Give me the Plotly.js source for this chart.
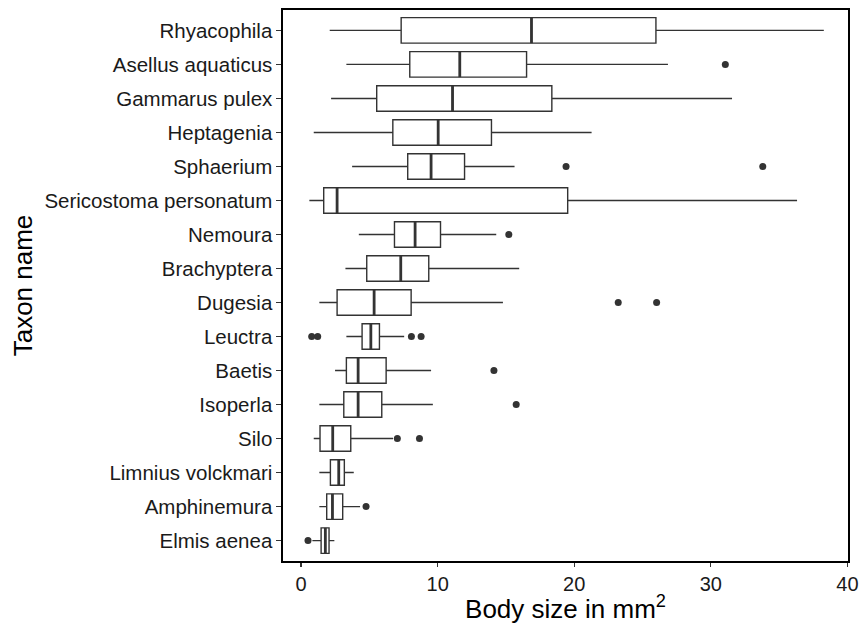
<!DOCTYPE html>
<html>
<head>
<meta charset="utf-8">
<script src="https://cdn.plot.ly/plotly-3.0.1.min.js"></script>
<style>html,body{margin:0;padding:0;background:#fff;}#chart{width:859px;height:624px;}</style>
</head>
<body>
<div id="chart"></div>
<script>
// Taxa from bottom to top
const taxa = ["Elmis aenea","Amphinemura","Limnius volckmari","Silo","Isoperla","Baetis","Leuctra","Dugesia","Brachyptera","Nemoura","Sericostoma personatum","Sphaerium","Heptagenia","Gammarus pulex","Asellus aquaticus","Rhyacophila"];
const lowerWhisker = [0.83, 1.34, 1.34, 0.93, 1.34, 2.49, 3.32, 1.34, 3.25, 4.23, 0.61, 3.74, 0.93, 2.20, 3.32, 2.10];
const q1Values     = [1.47, 1.88, 2.15, 1.39, 3.13, 3.32, 4.47, 2.64, 4.81, 6.84, 1.66, 7.81, 6.72, 5.54, 7.96, 7.33];
const medianValues = [1.78, 2.30, 2.76, 2.32, 4.18, 4.18, 5.11, 5.35, 7.30, 8.35, 2.64, 9.52, 10.04, 11.09, 11.62, 16.87];
const q3Values     = [2.05, 3.05, 3.17, 3.64, 5.91, 6.23, 5.74, 8.06, 9.35, 10.21, 19.52, 11.97, 13.94, 18.36, 16.51, 25.98];
const upperWhisker = [2.44, 4.32, 3.86, 6.74, 9.65, 9.52, 7.55, 14.78, 15.97, 14.29, 36.31, 15.63, 21.27, 31.55, 26.86, 38.27];
// Outliers: taxon name and value
const outlierTaxa   = ["Elmis aenea","Amphinemura","Silo","Silo","Isoperla","Baetis","Leuctra","Leuctra","Leuctra","Leuctra","Dugesia","Dugesia","Nemoura","Sphaerium","Sphaerium","Asellus aquaticus"];
const outlierValues = [0.51, 4.76, 7.05, 8.67, 15.75, 14.12, 0.78, 1.22, 8.08, 8.79, 23.22, 26.03, 15.21, 19.40, 33.80, 31.06];
const xTickVals = [0, 10, 20, 30, 40];

const pos = taxa.map((_, i) => i + 1);
const boxWidth = 0.75;
const lineColor = "#333333";

const boxTrace = {
  type: "box", orientation: "h",
  y: pos, q1: q1Values, median: medianValues, q3: q3Values,
  lowerfence: lowerWhisker, upperfence: upperWhisker,
  width: boxWidth, whiskerwidth: 0,
  fillcolor: "#ffffff",
  line: {color: lineColor, width: 1.4},
  boxpoints: false, hoverinfo: "skip", showlegend: false
};

const mx = [], my = [];
medianValues.forEach((m, i) => {
  mx.push(m, m, null);
  my.push(pos[i] - boxWidth / 2, pos[i] + boxWidth / 2, null);
});
const medianTrace = {
  type: "scatter", mode: "lines", x: mx, y: my,
  line: {color: lineColor, width: 2.8}, hoverinfo: "skip", showlegend: false
};

const outlierTrace = {
  type: "scatter", mode: "markers",
  x: outlierValues, y: outlierTaxa.map(t => taxa.indexOf(t) + 1),
  marker: {color: lineColor, size: 7}, hoverinfo: "skip", showlegend: false
};

const layout = {
  width: 859, height: 624,
  margin: {l: 283, r: 11, t: 10, b: 63},
  paper_bgcolor: "#ffffff", plot_bgcolor: "#ffffff",
  font: {family: "Liberation Sans, Arial, sans-serif", color: "#1a1a1a"},
  xaxis: {
    range: [-1.32, 40.04], tickvals: xTickVals, ticktext: xTickVals.map(String),
    showgrid: false, zeroline: false,
    showline: true, mirror: true, linecolor: "#000000", linewidth: 1.6,
    ticks: "outside", ticklen: 4, tickwidth: 1.1, tickcolor: "#333333",
    tickfont: {size: 20, color: "#1a1a1a"},
    title: {text: "Body size in mm<sup>2</sup>", font: {size: 26, color: "#000000"}, standoff: 4}
  },
  yaxis: {
    range: [0.4, 16.6], tickvals: pos, ticktext: taxa,
    showgrid: false, zeroline: false,
    showline: true, mirror: true, linecolor: "#000000", linewidth: 1.6,
    ticks: "outside", ticklen: 5, tickwidth: 1.1, tickcolor: "#333333",
    tickfont: {size: 20.5, color: "#1a1a1a"},
    title: {text: "Taxon name", font: {size: 26, color: "#000000"}, standoff: 4}
  }
};

Plotly.newPlot("chart", [boxTrace, medianTrace, outlierTrace], layout, {displayModeBar: false, staticPlot: true});
</script>
</body>
</html>
